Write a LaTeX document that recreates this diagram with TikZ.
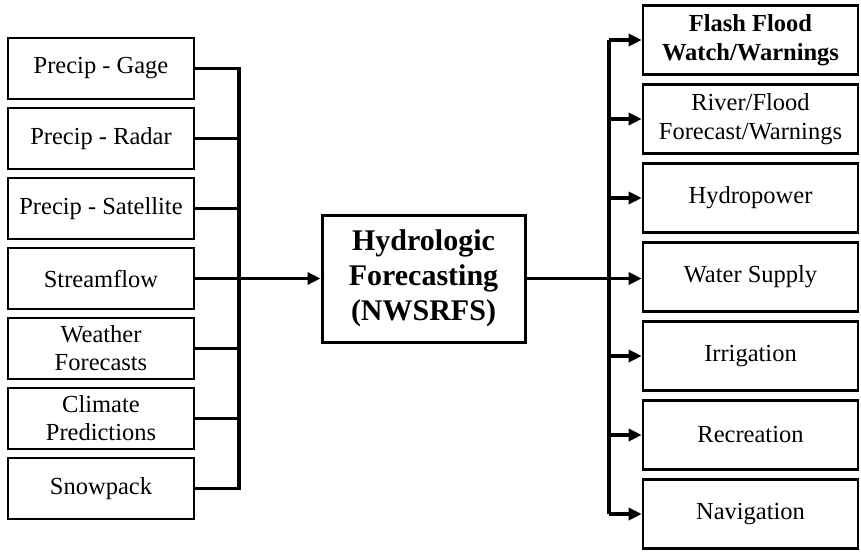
\documentclass[tikz,border=0pt]{standalone}
\usepackage{fontspec}
\setmainfont{Liberation Serif}
\usetikzlibrary{arrows.meta}
\begin{document}
\begin{tikzpicture}[x=1pt,y=-1pt,
  inbox/.style={draw, line width=2.6pt, minimum width=186pt, minimum height=61pt, inner sep=0pt, align=center, font=\fontsize{24.5}{28}\selectfont},
  outbox/.style={draw, line width=2.6pt, minimum width=215pt, minimum height=69pt, inner sep=0pt, align=center, font=\fontsize{24.5}{29}\selectfont},
  centbox/.style={draw, line width=3pt, minimum width=203pt, minimum height=127pt, inner sep=0pt, align=center, font=\fontsize{30}{35}\selectfont\bfseries},
  conn/.style={line width=3.4pt},
  arr/.style={line width=3.4pt, -{Triangle[length=13pt,width=12pt]}}
]
\useasboundingbox (0,0) rectangle (861,551);
% inputs
\node[inbox] (L1) at (101,68.5) {Precip - Gage};
\node[inbox] (L2) at (101,138.5) {Precip - Radar};
\node[inbox] (L3) at (101,208.5) {Precip - Satellite};
\node[inbox] (L4) at (101,278.5) {Streamflow};
\node[inbox] (L5) at (101,348.5) {Weather\\Forecasts};
\node[inbox] (L6) at (101,418.5) {Climate\\Predictions};
\node[inbox] (L7) at (101,488.5) {Snowpack};
% center
\node[centbox] (C) at (423.5,278.5) {Hydrologic\\Forecasting\\(NWSRFS)};
% outputs
\node[outbox] (R1) at (750.5,40) {\bfseries Flash Flood\\\bfseries Watch/Warnings};
\node[outbox] (R2) at (750.5,119) {River/Flood\\Forecast/Warnings};
\node[outbox] (R3) at (750.5,198) {Hydropower};
\node[outbox] (R4) at (750.5,277) {Water Supply};
\node[outbox] (R5) at (750.5,356) {Irrigation};
\node[outbox] (R6) at (750.5,435) {Recreation};
\node[outbox] (R7) at (750.5,514) {Navigation};
% buses
\coordinate (busL) at (239,278.5);
\coordinate (busR) at (609,278.5);
\draw[conn] (L1.east) -| (busL) |- (L7.east);
\foreach \i in {2,3,4,5,6} {\draw[conn] (L\i.east) -- (L\i.east -| busL);}
\draw[arr] (busL) -- (C.west);
\draw[arr] (C.east) -- (C.east -| R4.west);
\draw[conn] (R1.west -| busR) -- (R7.west -| busR);
\foreach \i in {1,2,3,5,6,7} {\draw[arr] (R\i.west -| busR) -- (R\i.west);}
\end{tikzpicture}
\end{document}
